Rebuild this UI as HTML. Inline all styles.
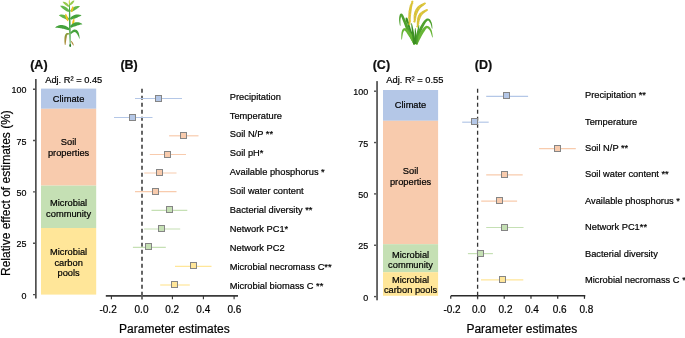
<!DOCTYPE html>
<html><head><meta charset="utf-8"><style>
html,body{margin:0;padding:0;background:#fff;width:685px;height:338px;overflow:hidden}
svg{display:block;will-change:transform}
text{font-family:"Liberation Sans",sans-serif;stroke:#000;stroke-width:0.2px}
</style></head><body>
<svg width="685" height="338" viewBox="0 0 685 338">
<text x="30.2" y="68.5" font-size="12.5" text-anchor="start" font-weight="bold" fill="#111" >(A)</text>
<text x="45.2" y="82.8" font-size="9.3" text-anchor="start" font-weight="normal" fill="#000" >Adj. R² = 0.45</text>
<rect x="41" y="88.6" width="55.2" height="20.2" fill="#B4C7E7"/>
<rect x="41" y="108.8" width="55.2" height="76.8" fill="#F8CBAD"/>
<rect x="41" y="185.6" width="55.2" height="42.4" fill="#C5E0B4"/>
<rect x="41" y="228" width="55.2" height="66.6" fill="#FFE699"/>
<text x="68.6" y="102.2" font-size="9.3" text-anchor="middle" font-weight="normal" fill="#000" >Climate</text>
<text x="68.6" y="145.3" font-size="9.3" text-anchor="middle" font-weight="normal" fill="#000" >Soil</text>
<text x="68.6" y="155.7" font-size="9.3" text-anchor="middle" font-weight="normal" fill="#000" >properties</text>
<text x="68.6" y="206" font-size="9.3" text-anchor="middle" font-weight="normal" fill="#000" >Microbial</text>
<text x="68.6" y="216.5" font-size="9.3" text-anchor="middle" font-weight="normal" fill="#000" >community</text>
<text x="68.6" y="255.4" font-size="9.3" text-anchor="middle" font-weight="normal" fill="#000" >Microbial</text>
<text x="68.6" y="265.8" font-size="9.3" text-anchor="middle" font-weight="normal" fill="#000" >carbon</text>
<text x="68.6" y="276.2" font-size="9.3" text-anchor="middle" font-weight="normal" fill="#000" >pools</text>
<rect x="35" y="79" width="1.7" height="219.5" fill="#505050"/>
<line x1="33" y1="89.2" x2="35" y2="89.2" stroke="#505050" stroke-width="1.4" />
<text x="26.4" y="93.4" font-size="9.6" text-anchor="end" font-weight="normal" fill="#000" transform="translate(26.4,0) scale(0.93,1) translate(-26.4,0)">100</text>
<line x1="33" y1="140.55" x2="35" y2="140.55" stroke="#505050" stroke-width="1.4" />
<text x="26.4" y="144.75" font-size="9.6" text-anchor="end" font-weight="normal" fill="#000" transform="translate(26.4,0) scale(0.93,1) translate(-26.4,0)">75</text>
<line x1="33" y1="191.9" x2="35" y2="191.9" stroke="#505050" stroke-width="1.4" />
<text x="26.4" y="196.1" font-size="9.6" text-anchor="end" font-weight="normal" fill="#000" transform="translate(26.4,0) scale(0.93,1) translate(-26.4,0)">50</text>
<line x1="33" y1="243.25" x2="35" y2="243.25" stroke="#505050" stroke-width="1.4" />
<text x="26.4" y="247.45" font-size="9.6" text-anchor="end" font-weight="normal" fill="#000" transform="translate(26.4,0) scale(0.93,1) translate(-26.4,0)">25</text>
<line x1="33" y1="294.6" x2="35" y2="294.6" stroke="#505050" stroke-width="1.4" />
<text x="26.4" y="298.8" font-size="9.6" text-anchor="end" font-weight="normal" fill="#000" transform="translate(26.4,0) scale(0.93,1) translate(-26.4,0)">0</text>
<text transform="translate(10,193.1) rotate(-90)" font-size="12" text-anchor="middle" fill="#000">Relative effect of estimates (%)</text>
<text x="120.4" y="68.5" font-size="12.5" text-anchor="start" font-weight="bold" fill="#111" >(B)</text>
<line x1="105.8" y1="295.9" x2="238" y2="295.9" stroke="#3a3a3a" stroke-width="1.6" />
<line x1="111.4" y1="296" x2="111.4" y2="299.3" stroke="#333" stroke-width="1.1" />
<line x1="172.4" y1="296" x2="172.4" y2="299.3" stroke="#333" stroke-width="1.1" />
<line x1="203.4" y1="296" x2="203.4" y2="299.3" stroke="#333" stroke-width="1.1" />
<line x1="234.1" y1="296" x2="234.1" y2="299.3" stroke="#333" stroke-width="1.1" />
<line x1="142" y1="296" x2="142" y2="299.3" stroke="#555" stroke-width="1.6" />
<text x="108.1" y="312.6" font-size="10" text-anchor="middle" font-weight="normal" fill="#000" >-0.2</text>
<text x="141.5" y="312.6" font-size="10" text-anchor="middle" font-weight="normal" fill="#000" >0.0</text>
<text x="172.1" y="312.6" font-size="10" text-anchor="middle" font-weight="normal" fill="#000" >0.2</text>
<text x="203.3" y="312.6" font-size="10" text-anchor="middle" font-weight="normal" fill="#000" >0.4</text>
<text x="234.4" y="312.6" font-size="10" text-anchor="middle" font-weight="normal" fill="#000" >0.6</text>
<text x="174.4" y="332.9" font-size="12" text-anchor="middle" font-weight="normal" fill="#000" >Parameter estimates</text>
<line x1="142" y1="88.8" x2="142" y2="299.2" stroke="#666" stroke-width="2" stroke-dasharray="4 3"/>
<line x1="135" y1="98.5" x2="182" y2="98.5" stroke="#B4C7E7" stroke-width="1.2" />
<line x1="114" y1="117.5" x2="152.5" y2="117.5" stroke="#B4C7E7" stroke-width="1.2" />
<line x1="169.1" y1="135.8" x2="198.5" y2="135.8" stroke="#F8CBAD" stroke-width="1.2" />
<line x1="149.8" y1="154.5" x2="186" y2="154.5" stroke="#F8CBAD" stroke-width="1.2" />
<line x1="144.2" y1="173" x2="176.5" y2="173" stroke="#F8CBAD" stroke-width="1.2" />
<line x1="135" y1="191.6" x2="176.5" y2="191.6" stroke="#F8CBAD" stroke-width="1.2" />
<line x1="151.5" y1="210.3" x2="187.3" y2="210.3" stroke="#C5E0B4" stroke-width="1.2" />
<line x1="144.1" y1="229" x2="180.2" y2="229" stroke="#C5E0B4" stroke-width="1.2" />
<line x1="132.9" y1="247.4" x2="165.8" y2="247.4" stroke="#C5E0B4" stroke-width="1.2" />
<line x1="175" y1="266.4" x2="211.5" y2="266.4" stroke="#FFE699" stroke-width="1.2" />
<line x1="160.2" y1="285" x2="189.8" y2="285" stroke="#FFE699" stroke-width="1.2" />
<rect x="155.5" y="95.5" width="6" height="6" fill="#B4C7E7" stroke="#858585" stroke-width="1"/>
<text x="229.8" y="99.6" font-size="9.3" text-anchor="start" font-weight="normal" fill="#000" >Precipitation</text>
<rect x="129.5" y="114.5" width="6" height="6" fill="#B4C7E7" stroke="#858585" stroke-width="1"/>
<text x="229.8" y="118.5" font-size="9.3" text-anchor="start" font-weight="normal" fill="#000" >Temperature</text>
<rect x="180.5" y="132.5" width="6" height="6" fill="#F8CBAD" stroke="#858585" stroke-width="1"/>
<text x="229.8" y="137.4" font-size="9.3" text-anchor="start" font-weight="normal" fill="#000" >Soil N/P **</text>
<rect x="164.5" y="151.5" width="6" height="6" fill="#F8CBAD" stroke="#858585" stroke-width="1"/>
<text x="229.8" y="156.3" font-size="9.3" text-anchor="start" font-weight="normal" fill="#000" >Soil pH*</text>
<rect x="156.5" y="169.5" width="6" height="6" fill="#F8CBAD" stroke="#858585" stroke-width="1"/>
<text x="229.8" y="175.2" font-size="9.3" text-anchor="start" font-weight="normal" fill="#000" >Available phosphorus *</text>
<rect x="152.5" y="188.5" width="6" height="6" fill="#F8CBAD" stroke="#858585" stroke-width="1"/>
<text x="229.8" y="194.1" font-size="9.3" text-anchor="start" font-weight="normal" fill="#000" >Soil water content</text>
<rect x="166.5" y="206.5" width="6" height="6" fill="#C5E0B4" stroke="#858585" stroke-width="1"/>
<text x="229.8" y="213.0" font-size="9.3" text-anchor="start" font-weight="normal" fill="#000" >Bacterial diversity **</text>
<rect x="158.5" y="225.5" width="6" height="6" fill="#C5E0B4" stroke="#858585" stroke-width="1"/>
<text x="229.8" y="231.9" font-size="9.3" text-anchor="start" font-weight="normal" fill="#000" >Network PC1*</text>
<rect x="145.5" y="243.5" width="6" height="6" fill="#C5E0B4" stroke="#858585" stroke-width="1"/>
<text x="229.8" y="250.8" font-size="9.3" text-anchor="start" font-weight="normal" fill="#000" >Network PC2</text>
<rect x="190.5" y="262.5" width="6" height="6" fill="#FFE699" stroke="#858585" stroke-width="1"/>
<text x="229.8" y="269.7" font-size="9.3" text-anchor="start" font-weight="normal" fill="#000" >Microbial necromass C**</text>
<rect x="171.5" y="281.5" width="6" height="6" fill="#FFE699" stroke="#858585" stroke-width="1"/>
<text x="229.8" y="288.6" font-size="9.3" text-anchor="start" font-weight="normal" fill="#000" >Microbial biomass C **</text>
<text x="372.7" y="68.5" font-size="12.5" text-anchor="start" font-weight="bold" fill="#111" >(C)</text>
<text x="386.3" y="83" font-size="9.3" text-anchor="start" font-weight="normal" fill="#000" >Adj. R² = 0.55</text>
<rect x="383" y="90" width="55.1" height="30.8" fill="#B4C7E7"/>
<rect x="383" y="120.8" width="55.1" height="123.4" fill="#F8CBAD"/>
<rect x="383" y="244.2" width="55.1" height="28.0" fill="#C5E0B4"/>
<rect x="383" y="272.2" width="55.1" height="23.6" fill="#FFE699"/>
<text x="410.55" y="108.2" font-size="9.3" text-anchor="middle" font-weight="normal" fill="#000" >Climate</text>
<text x="410.55" y="174.2" font-size="9.3" text-anchor="middle" font-weight="normal" fill="#000" >Soil</text>
<text x="410.55" y="184.5" font-size="9.3" text-anchor="middle" font-weight="normal" fill="#000" >properties</text>
<text x="410.55" y="257.8" font-size="9.3" text-anchor="middle" font-weight="normal" fill="#000" >Microbial</text>
<text x="410.55" y="268" font-size="9.3" text-anchor="middle" font-weight="normal" fill="#000" >community</text>
<text x="410.55" y="282.6" font-size="9.3" text-anchor="middle" font-weight="normal" fill="#000" >Microbial</text>
<text x="410.55" y="292.9" font-size="9.3" text-anchor="middle" font-weight="normal" fill="#000" >carbon pools</text>
<rect x="376.2" y="81.1" width="1.7" height="219.2" fill="#505050"/>
<line x1="374" y1="91.2" x2="376.2" y2="91.2" stroke="#505050" stroke-width="1.4" />
<text x="368.2" y="95.4" font-size="9.6" text-anchor="end" font-weight="normal" fill="#000" transform="translate(368.2,0) scale(0.93,1) translate(-368.2,0)">100</text>
<line x1="374" y1="142.55" x2="376.2" y2="142.55" stroke="#505050" stroke-width="1.4" />
<text x="368.2" y="146.75" font-size="9.6" text-anchor="end" font-weight="normal" fill="#000" transform="translate(368.2,0) scale(0.93,1) translate(-368.2,0)">75</text>
<line x1="374" y1="193.9" x2="376.2" y2="193.9" stroke="#505050" stroke-width="1.4" />
<text x="368.2" y="198.1" font-size="9.6" text-anchor="end" font-weight="normal" fill="#000" transform="translate(368.2,0) scale(0.93,1) translate(-368.2,0)">50</text>
<line x1="374" y1="245.25" x2="376.2" y2="245.25" stroke="#505050" stroke-width="1.4" />
<text x="368.2" y="249.45" font-size="9.6" text-anchor="end" font-weight="normal" fill="#000" transform="translate(368.2,0) scale(0.93,1) translate(-368.2,0)">25</text>
<line x1="374" y1="296.6" x2="376.2" y2="296.6" stroke="#505050" stroke-width="1.4" />
<text x="368.2" y="300.8" font-size="9.6" text-anchor="end" font-weight="normal" fill="#000" transform="translate(368.2,0) scale(0.93,1) translate(-368.2,0)">0</text>
<text x="474.8" y="68.5" font-size="12.5" text-anchor="start" font-weight="bold" fill="#111" >(D)</text>
<line x1="450.9" y1="295.8" x2="585.3" y2="295.8" stroke="#2a2a2a" stroke-width="1.4" />
<line x1="450.76" y1="295.8" x2="450.76" y2="298.8" stroke="#2a2a2a" stroke-width="1.2" />
<line x1="504.24" y1="295.8" x2="504.24" y2="298.8" stroke="#2a2a2a" stroke-width="1.2" />
<line x1="530.98" y1="295.8" x2="530.98" y2="298.8" stroke="#2a2a2a" stroke-width="1.2" />
<line x1="557.72" y1="295.8" x2="557.72" y2="298.8" stroke="#2a2a2a" stroke-width="1.2" />
<line x1="584.46" y1="295.8" x2="584.46" y2="298.8" stroke="#2a2a2a" stroke-width="1.2" />
<line x1="477.6" y1="295.8" x2="477.6" y2="298.8" stroke="#333" stroke-width="1.3" />
<text x="452" y="312.6" font-size="10" text-anchor="middle" font-weight="normal" fill="#000" >-0.2</text>
<text x="478.9" y="312.6" font-size="10" text-anchor="middle" font-weight="normal" fill="#000" >0.0</text>
<text x="505.5" y="312.6" font-size="10" text-anchor="middle" font-weight="normal" fill="#000" >0.2</text>
<text x="531.9" y="312.6" font-size="10" text-anchor="middle" font-weight="normal" fill="#000" >0.4</text>
<text x="559.7" y="312.6" font-size="10" text-anchor="middle" font-weight="normal" fill="#000" >0.6</text>
<text x="586.4" y="312.6" font-size="10" text-anchor="middle" font-weight="normal" fill="#000" >0.8</text>
<text x="521.8" y="332.9" font-size="12" text-anchor="middle" font-weight="normal" fill="#000" >Parameter estimates</text>
<line x1="477.6" y1="88.8" x2="477.6" y2="299.2" stroke="#333" stroke-width="1.3" stroke-dasharray="4 3"/>
<line x1="486.2" y1="96.3" x2="528.1" y2="96.3" stroke="#B4C7E7" stroke-width="1.2" />
<line x1="462.2" y1="122.2" x2="488.7" y2="122.2" stroke="#B4C7E7" stroke-width="1.2" />
<line x1="539.1" y1="148.7" x2="575.8" y2="148.7" stroke="#F8CBAD" stroke-width="1.2" />
<line x1="486.2" y1="174.8" x2="522.7" y2="174.8" stroke="#F8CBAD" stroke-width="1.2" />
<line x1="481.2" y1="201.2" x2="517.1" y2="201.2" stroke="#F8CBAD" stroke-width="1.2" />
<line x1="486.2" y1="227.5" x2="523.5" y2="227.5" stroke="#C5E0B4" stroke-width="1.2" />
<line x1="467.9" y1="253.6" x2="492.9" y2="253.6" stroke="#C5E0B4" stroke-width="1.2" />
<line x1="481" y1="279.8" x2="523.3" y2="279.8" stroke="#FFE699" stroke-width="1.2" />
<rect x="503.5" y="92.5" width="6" height="6" fill="#B4C7E7" stroke="#858585" stroke-width="1"/>
<text x="585" y="98.4" font-size="9.3" text-anchor="start" font-weight="normal" fill="#000" >Precipitation **</text>
<rect x="471.5" y="118.5" width="6" height="6" fill="#B4C7E7" stroke="#858585" stroke-width="1"/>
<text x="585" y="124.75" font-size="9.3" text-anchor="start" font-weight="normal" fill="#000" >Temperature</text>
<rect x="554.5" y="145.5" width="6" height="6" fill="#F8CBAD" stroke="#858585" stroke-width="1"/>
<text x="585" y="151.1" font-size="9.3" text-anchor="start" font-weight="normal" fill="#000" >Soil N/P **</text>
<rect x="501.5" y="171.5" width="6" height="6" fill="#F8CBAD" stroke="#858585" stroke-width="1"/>
<text x="585" y="177.45" font-size="9.3" text-anchor="start" font-weight="normal" fill="#000" >Soil water content **</text>
<rect x="496.5" y="197.5" width="6" height="6" fill="#F8CBAD" stroke="#858585" stroke-width="1"/>
<text x="585" y="203.8" font-size="9.3" text-anchor="start" font-weight="normal" fill="#000" >Available phosphorus *</text>
<rect x="501.5" y="224.5" width="6" height="6" fill="#C5E0B4" stroke="#858585" stroke-width="1"/>
<text x="585" y="230.15" font-size="9.3" text-anchor="start" font-weight="normal" fill="#000" >Network PC1**</text>
<rect x="477.5" y="250.5" width="6" height="6" fill="#C5E0B4" stroke="#858585" stroke-width="1"/>
<text x="585" y="256.5" font-size="9.3" text-anchor="start" font-weight="normal" fill="#000" >Bacterial diversity</text>
<rect x="499.5" y="276.5" width="6" height="6" fill="#FFE699" stroke="#858585" stroke-width="1"/>
<text x="585" y="282.85" font-size="9.3" text-anchor="start" font-weight="normal" fill="#000" >Microbial necromass C *</text>
<g>
<path d="M69.08,3.01 L69.04,5.76 L69.00,8.50 L68.96,11.25 L68.94,13.99 L68.93,16.72 L68.94,19.46 L68.96,22.19 L69.00,24.91 L69.06,27.64 L69.14,30.36 L69.23,33.07 L69.34,35.79 L69.46,38.50 L69.60,41.20 L69.74,43.91 L69.88,46.61 L70.52,46.59 L70.56,43.89 L70.60,41.18 L70.64,38.48 L70.66,35.76 L70.67,33.05 L70.66,30.33 L70.64,27.61 L70.60,24.89 L70.54,22.16 L70.46,19.43 L70.37,16.70 L70.26,13.96 L70.14,11.23 L70.00,8.48 L69.86,5.74 L69.72,2.99Z" fill="#46a546" />
<path d="M69.06,0.01 L69.00,0.29 L68.93,0.57 L68.88,0.85 L68.83,1.14 L68.79,1.42 L68.77,1.70 L68.75,1.98 L68.75,2.26 L68.76,2.54 L68.79,2.83 L68.83,3.11 L68.88,3.39 L68.94,3.67 L69.01,3.95 L69.08,4.23 L69.16,4.51 L69.64,4.49 L69.70,4.21 L69.77,3.93 L69.82,3.65 L69.87,3.36 L69.91,3.08 L69.93,2.80 L69.95,2.52 L69.95,2.24 L69.94,1.96 L69.91,1.67 L69.87,1.39 L69.82,1.11 L69.76,0.83 L69.69,0.55 L69.62,0.27 L69.54,-0.01Z" fill="#c9d84a" />
<path d="M69.34,6.04 L69.02,5.52 L68.68,5.02 L68.33,4.56 L67.96,4.13 L67.57,3.73 L67.17,3.36 L66.76,3.03 L66.33,2.73 L65.89,2.48 L65.44,2.25 L64.98,2.07 L64.51,1.92 L64.04,1.82 L63.57,1.75 L63.10,1.73 L62.60,1.80 L62.60,1.80 L62.83,2.24 L63.10,2.61 L63.37,2.97 L63.65,3.31 L63.95,3.65 L64.25,3.98 L64.58,4.30 L64.92,4.62 L65.29,4.92 L65.67,5.22 L66.08,5.52 L66.51,5.81 L66.96,6.10 L67.43,6.39 L67.93,6.67 L68.46,6.96Z" fill="#96ca4e" />
<path d="M70.44,5.37 L70.85,5.09 L71.25,4.82 L71.61,4.54 L71.96,4.26 L72.28,3.98 L72.58,3.70 L72.85,3.41 L73.11,3.11 L73.34,2.82 L73.55,2.51 L73.74,2.20 L73.91,1.89 L74.06,1.56 L74.20,1.23 L74.32,0.89 L74.40,0.50 L74.40,0.50 L74.00,0.49 L73.63,0.56 L73.27,0.67 L72.92,0.80 L72.57,0.97 L72.23,1.16 L71.91,1.38 L71.59,1.64 L71.29,1.92 L71.00,2.23 L70.73,2.56 L70.47,2.93 L70.22,3.32 L69.99,3.73 L69.77,4.17 L69.56,4.63Z" fill="#96ca4e" />
<path d="M69.55,10.88 L69.11,10.23 L68.64,9.61 L68.14,9.03 L67.62,8.49 L67.08,8.00 L66.51,7.55 L65.92,7.14 L65.32,6.79 L64.69,6.48 L64.05,6.22 L63.39,6.01 L62.73,5.85 L62.06,5.73 L61.38,5.68 L60.70,5.68 L60.00,5.80 L60.00,5.80 L60.42,6.36 L60.87,6.85 L61.32,7.30 L61.77,7.74 L62.23,8.17 L62.70,8.58 L63.19,8.98 L63.68,9.36 L64.20,9.74 L64.74,10.10 L65.29,10.45 L65.88,10.79 L66.48,11.13 L67.11,11.46 L67.77,11.79 L68.45,12.12Z" fill="#62b74a" />
<path d="M71.16,12.11 L71.83,11.79 L72.47,11.47 L73.09,11.16 L73.69,10.84 L74.26,10.53 L74.82,10.20 L75.36,9.87 L75.89,9.53 L76.40,9.19 L76.91,8.82 L77.42,8.45 L77.93,8.06 L78.43,7.67 L78.95,7.25 L79.48,6.82 L80.00,6.30 L80.00,6.30 L79.28,6.10 L78.57,6.03 L77.86,6.03 L77.15,6.09 L76.45,6.20 L75.75,6.36 L75.07,6.59 L74.41,6.87 L73.77,7.20 L73.15,7.58 L72.55,8.02 L71.99,8.51 L71.45,9.04 L70.95,9.61 L70.48,10.23 L70.04,10.89Z" fill="#62b74a" />
<path d="M69.33,18.78 L68.78,18.12 L68.20,17.50 L67.59,16.94 L66.97,16.43 L66.33,15.98 L65.66,15.59 L64.98,15.25 L64.29,14.99 L63.58,14.78 L62.87,14.64 L62.17,14.57 L61.46,14.56 L60.77,14.62 L60.09,14.75 L59.43,14.95 L58.80,15.30 L58.80,15.30 L59.35,15.75 L59.88,16.11 L60.40,16.45 L60.91,16.79 L61.43,17.11 L61.94,17.42 L62.47,17.72 L63.01,18.01 L63.57,18.30 L64.16,18.58 L64.77,18.85 L65.40,19.12 L66.07,19.39 L66.77,19.66 L67.50,19.94 L68.27,20.22Z" fill="#62b74a" />
<path d="M70.91,19.74 L71.64,19.51 L72.35,19.29 L73.03,19.07 L73.70,18.86 L74.36,18.63 L75.00,18.40 L75.63,18.16 L76.25,17.91 L76.88,17.65 L77.51,17.38 L78.15,17.09 L78.80,16.79 L79.46,16.48 L80.15,16.16 L80.86,15.82 L81.60,15.40 L81.60,15.40 L80.82,15.03 L80.03,14.79 L79.23,14.63 L78.43,14.53 L77.62,14.50 L76.82,14.53 L76.03,14.62 L75.25,14.79 L74.48,15.01 L73.74,15.30 L73.01,15.66 L72.32,16.07 L71.66,16.54 L71.03,17.06 L70.45,17.64 L69.89,18.26Z" fill="#45a23c" />
<path d="M72.52,6.36 L72.37,6.66 L72.22,6.96 L72.07,7.26 L71.92,7.57 L71.78,7.88 L71.65,8.19 L71.54,8.51 L71.44,8.84 L71.35,9.18 L71.27,9.53 L71.21,9.89 L71.15,10.26 L71.10,10.64 L71.05,11.03 L71.01,11.44 L70.95,11.85 L71.65,12.15 L71.91,11.82 L72.17,11.48 L72.40,11.14 L72.62,10.79 L72.82,10.44 L73.00,10.09 L73.14,9.73 L73.26,9.36 L73.35,8.99 L73.41,8.62 L73.45,8.25 L73.45,7.88 L73.44,7.51 L73.40,7.15 L73.35,6.79 L73.28,6.44Z" fill="#f2c21b" />
<path d="M65.21,13.90 L65.23,14.40 L65.25,14.89 L65.28,15.39 L65.33,15.88 L65.39,16.37 L65.48,16.85 L65.59,17.33 L65.72,17.80 L65.88,18.26 L66.06,18.72 L66.26,19.17 L66.49,19.61 L66.73,20.05 L66.98,20.48 L67.25,20.91 L67.52,21.33 L68.28,21.07 L68.23,20.57 L68.18,20.07 L68.12,19.58 L68.05,19.09 L67.97,18.61 L67.88,18.13 L67.76,17.66 L67.63,17.20 L67.48,16.75 L67.31,16.30 L67.12,15.86 L66.91,15.42 L66.69,14.99 L66.46,14.56 L66.22,14.13 L65.99,13.70Z" fill="#f2c21b" />
<path d="M73.50,18.75 L73.34,19.13 L73.17,19.51 L73.00,19.88 L72.84,20.25 L72.70,20.63 L72.57,21.01 L72.45,21.39 L72.35,21.77 L72.27,22.16 L72.20,22.56 L72.15,22.96 L72.11,23.37 L72.09,23.79 L72.06,24.21 L72.04,24.64 L72.02,25.07 L72.78,25.33 L73.03,24.96 L73.26,24.59 L73.49,24.21 L73.70,23.83 L73.89,23.44 L74.05,23.04 L74.19,22.64 L74.30,22.23 L74.38,21.81 L74.44,21.39 L74.46,20.97 L74.47,20.55 L74.45,20.12 L74.41,19.69 L74.36,19.27 L74.30,18.85Z" fill="#f2c21b" />
<path d="M69.71,28.69 L68.89,27.93 L68.03,27.25 L67.13,26.65 L66.21,26.14 L65.25,25.71 L64.28,25.39 L63.28,25.16 L62.28,25.03 L61.28,25.00 L60.29,25.08 L59.32,25.25 L58.37,25.53 L57.45,25.89 L56.58,26.34 L55.75,26.89 L55.00,27.60 L55.00,27.60 L56.00,27.71 L56.93,27.78 L57.81,27.86 L58.66,27.96 L59.47,28.08 L60.26,28.22 L61.04,28.36 L61.82,28.52 L62.59,28.68 L63.38,28.86 L64.19,29.05 L65.02,29.25 L65.88,29.47 L66.78,29.72 L67.72,30.00 L68.69,30.31Z" fill="#45a23c" />
<path d="M71.21,27.74 L71.99,27.41 L72.74,27.12 L73.45,26.86 L74.13,26.61 L74.79,26.39 L75.42,26.17 L76.04,25.97 L76.66,25.76 L77.27,25.56 L77.90,25.36 L78.55,25.16 L79.23,24.96 L79.95,24.78 L80.71,24.60 L81.52,24.43 L82.40,24.20 L82.40,24.20 L81.69,23.59 L80.92,23.14 L80.12,22.78 L79.29,22.51 L78.44,22.33 L77.58,22.24 L76.71,22.24 L75.84,22.34 L74.99,22.53 L74.16,22.82 L73.36,23.20 L72.59,23.66 L71.87,24.20 L71.19,24.82 L70.56,25.51 L69.99,26.26Z" fill="#45a23c" />
<path d="M71.13,33.96 L72.00,33.26 L72.79,32.73 L73.47,32.37 L74.04,32.17 L74.48,32.09 L74.80,32.10 L75.06,32.15 L75.36,32.27 L75.74,32.50 L76.19,32.90 L76.70,33.48 L77.24,34.26 L77.80,35.22 L78.37,36.37 L78.95,37.70 L79.60,39.20 L79.60,39.20 L79.57,37.56 L79.41,36.07 L79.18,34.73 L78.89,33.53 L78.51,32.46 L78.04,31.53 L77.46,30.73 L76.74,30.08 L75.88,29.65 L74.93,29.47 L73.98,29.58 L73.08,29.92 L72.26,30.46 L71.49,31.17 L70.77,32.03 L70.07,33.04Z" fill="#45a23c" />
<path d="M69.41,33.51 L68.79,33.17 L68.13,32.97 L67.44,32.94 L66.76,33.12 L66.14,33.49 L65.62,34.01 L65.22,34.66 L64.91,35.41 L64.69,36.25 L64.54,37.20 L64.46,38.24 L64.45,39.38 L64.51,40.63 L64.62,41.98 L64.81,43.44 L65.10,45.00 L65.10,45.00 L65.28,43.43 L65.44,41.99 L65.62,40.67 L65.81,39.49 L66.02,38.44 L66.25,37.52 L66.49,36.74 L66.74,36.09 L66.99,35.58 L67.22,35.21 L67.42,34.94 L67.61,34.76 L67.81,34.62 L68.08,34.50 L68.48,34.45 L68.99,34.49Z" fill="#8a9a3a" />
<path d="M66.25,35.93 L66.03,36.41 L65.82,36.91 L65.62,37.42 L65.44,37.95 L65.28,38.48 L65.13,39.03 L65.01,39.58 L64.91,40.15 L64.83,40.73 L64.78,41.31 L64.74,41.91 L64.73,42.51 L64.74,43.12 L64.76,43.74 L64.79,44.36 L64.84,44.99 L65.36,45.01 L65.46,44.40 L65.57,43.79 L65.69,43.20 L65.80,42.61 L65.90,42.04 L66.01,41.47 L66.10,40.91 L66.19,40.35 L66.27,39.80 L66.35,39.26 L66.42,38.72 L66.49,38.18 L66.55,37.65 L66.61,37.12 L66.68,36.59 L66.75,36.07Z" fill="#b08a3a" />
<path d="M70.81,41.14 L70.93,41.43 L71.06,41.73 L71.18,42.02 L71.31,42.30 L71.44,42.59 L71.58,42.87 L71.73,43.15 L71.88,43.43 L72.04,43.70 L72.22,43.97 L72.40,44.24 L72.58,44.50 L72.78,44.77 L72.98,45.04 L73.18,45.32 L73.38,45.60 L73.82,45.40 L73.74,45.06 L73.66,44.72 L73.57,44.39 L73.47,44.06 L73.35,43.74 L73.22,43.42 L73.08,43.12 L72.92,42.82 L72.75,42.54 L72.56,42.27 L72.35,42.01 L72.14,41.76 L71.91,41.52 L71.68,41.29 L71.44,41.07 L71.19,40.86Z" fill="#b08a3a" />
<path d="M69.84,44.00 L69.73,44.19 L69.63,44.38 L69.54,44.56 L69.46,44.75 L69.39,44.94 L69.34,45.12 L69.31,45.31 L69.30,45.50 L69.31,45.69 L69.34,45.88 L69.39,46.06 L69.46,46.25 L69.54,46.44 L69.63,46.62 L69.73,46.81 L69.84,47.00 L70.56,47.00 L70.67,46.81 L70.77,46.62 L70.86,46.44 L70.94,46.25 L71.01,46.06 L71.06,45.88 L71.09,45.69 L71.10,45.50 L71.09,45.31 L71.06,45.12 L71.01,44.94 L70.94,44.75 L70.86,44.56 L70.77,44.38 L70.67,44.19 L70.56,44.00Z" fill="#2a7a2a" />
</g>
<g>
<path d="M416.29,43.54 L415.99,42.76 L415.60,41.76 L415.14,40.58 L414.62,39.25 L414.07,37.82 L413.50,36.32 L412.93,34.80 L412.36,33.30 L411.83,31.85 L411.34,30.49 L410.90,29.26 L410.48,27.97 L410.06,26.59 L409.65,25.16 L409.25,23.74 L408.86,22.36 L408.49,21.08 L408.14,19.93 L407.82,18.97 L407.51,18.21 L407.19,17.64 L405.95,17.41 L405.60,18.13 L405.55,18.83 L405.55,19.72 L405.58,20.75 L405.63,21.89 L405.70,23.04 L405.78,24.15 L405.87,25.15 L405.97,25.95 L406.13,26.50 L406.27,26.50 L406.44,25.95 L406.51,25.13 L406.56,24.14 L406.60,23.03 L406.64,21.88 L406.68,20.76 L406.75,19.75 L406.83,18.94 L406.94,18.42 L406.83,18.56 L405.94,18.51 L406.03,18.80 L406.23,19.47 L406.47,20.41 L406.75,21.54 L407.05,22.83 L407.38,24.22 L407.73,25.67 L408.08,27.13 L408.45,28.56 L408.83,29.91 L409.23,31.20 L409.67,32.59 L410.16,34.08 L410.68,35.61 L411.20,37.16 L411.73,38.67 L412.23,40.13 L412.69,41.47 L413.11,42.67 L413.45,43.68 L413.71,44.46Z" fill="#3b8f22" />
<path d="M417.06,43.15 L416.62,42.40 L416.05,41.43 L415.39,40.30 L414.65,39.03 L413.86,37.66 L413.06,36.24 L412.26,34.81 L411.49,33.40 L410.79,32.07 L410.17,30.84 L409.57,29.57 L408.98,28.26 L408.40,26.92 L407.83,25.58 L407.28,24.27 L406.75,22.99 L406.24,21.79 L405.76,20.67 L405.30,19.65 L404.89,18.78 L404.52,17.95 L404.17,17.17 L403.84,16.45 L403.53,15.79 L403.22,15.20 L402.91,14.68 L402.57,14.23 L402.11,13.81 L401.33,13.55 L400.45,13.84 L400.02,14.33 L399.77,14.85 L399.59,15.41 L399.44,16.02 L399.31,16.67 L399.21,17.34 L399.14,18.02 L399.09,18.68 L399.08,19.35 L399.11,20.10 L399.17,20.92 L399.27,21.78 L399.38,22.65 L399.51,23.49 L399.65,24.28 L399.78,24.99 L399.93,25.57 L400.13,26.00 L400.27,26.00 L400.41,25.53 L400.44,24.92 L400.44,24.20 L400.42,23.41 L400.40,22.56 L400.39,21.71 L400.39,20.87 L400.42,20.09 L400.47,19.41 L400.56,18.84 L400.68,18.24 L400.81,17.63 L400.97,17.04 L401.15,16.49 L401.33,16.01 L401.51,15.64 L401.65,15.44 L401.64,15.49 L401.18,15.64 L400.84,15.56 L400.83,15.60 L400.95,15.83 L401.12,16.23 L401.34,16.76 L401.58,17.39 L401.85,18.12 L402.15,18.93 L402.49,19.80 L402.86,20.72 L403.25,21.70 L403.68,22.82 L404.13,24.03 L404.62,25.32 L405.12,26.67 L405.65,28.04 L406.20,29.43 L406.77,30.81 L407.35,32.15 L407.97,33.47 L408.65,34.87 L409.40,36.34 L410.17,37.82 L410.95,39.28 L411.70,40.68 L412.41,41.98 L413.03,43.13 L413.56,44.11 L413.94,44.85Z" fill="#4fa12e" />
<path d="M417.19,44.54 L417.39,43.81 L417.64,42.89 L417.93,41.82 L418.25,40.62 L418.61,39.34 L418.99,38.03 L419.39,36.71 L419.80,35.43 L420.21,34.24 L420.62,33.15 L421.06,32.04 L421.54,30.90 L422.04,29.75 L422.56,28.62 L423.08,27.52 L423.59,26.48 L424.10,25.51 L424.58,24.63 L425.02,23.87 L425.44,23.21 L425.84,22.62 L426.22,22.10 L426.58,21.66 L426.92,21.30 L427.23,21.01 L427.49,20.81 L427.72,20.67 L427.89,20.59 L428.00,20.55 L428.06,20.54 L428.24,20.59 L428.49,20.76 L428.77,21.02 L429.08,21.36 L429.39,21.76 L429.69,22.20 L429.97,22.65 L430.24,23.12 L430.47,23.55 L430.69,24.08 L430.89,24.70 L431.08,25.37 L431.26,26.06 L431.42,26.75 L431.58,27.40 L431.74,27.98 L431.90,28.47 L432.13,28.82 L432.27,28.78 L432.37,28.39 L432.38,27.88 L432.37,27.28 L432.33,26.61 L432.27,25.89 L432.19,25.15 L432.08,24.42 L431.95,23.72 L431.78,23.07 L431.58,22.49 L431.36,21.95 L431.11,21.40 L430.83,20.86 L430.53,20.33 L430.18,19.83 L429.80,19.37 L429.35,18.96 L428.81,18.64 L428.14,18.46 L427.52,18.46 L426.94,18.59 L426.38,18.82 L425.85,19.13 L425.33,19.51 L424.82,19.96 L424.32,20.48 L423.81,21.06 L423.31,21.70 L422.79,22.41 L422.25,23.23 L421.69,24.15 L421.11,25.15 L420.52,26.22 L419.94,27.34 L419.36,28.49 L418.80,29.66 L418.26,30.82 L417.75,31.97 L417.26,33.12 L416.78,34.38 L416.31,35.70 L415.85,37.04 L415.42,38.38 L415.01,39.67 L414.64,40.86 L414.31,41.93 L414.03,42.81 L413.81,43.46Z" fill="#4fa12e" />
<path d="M410.36,24.99 L410.43,24.48 L410.48,23.84 L410.52,23.08 L410.56,22.24 L410.59,21.34 L410.63,20.39 L410.67,19.42 L410.71,18.45 L410.76,17.51 L410.83,16.62 L410.91,15.80 L411.01,14.96 L411.11,14.11 L411.22,13.24 L411.33,12.38 L411.44,11.51 L411.56,10.66 L411.68,9.83 L411.79,9.02 L411.91,8.24 L412.02,7.51 L412.13,6.83 L412.26,6.14 L412.41,5.45 L412.57,4.77 L412.73,4.11 L412.90,3.47 L413.05,2.87 L413.18,2.31 L413.30,1.80 L413.38,1.36 L413.43,0.98 L412.37,0.62 L412.18,0.91 L411.95,1.27 L411.69,1.72 L411.41,2.23 L411.11,2.79 L410.80,3.41 L410.50,4.07 L410.21,4.76 L409.94,5.48 L409.69,6.22 L409.48,6.97 L409.29,7.74 L409.11,8.54 L408.95,9.38 L408.80,10.25 L408.67,11.14 L408.56,12.04 L408.47,12.95 L408.39,13.85 L408.34,14.75 L408.32,15.64 L408.32,16.54 L408.35,17.49 L408.40,18.47 L408.48,19.47 L408.58,20.46 L408.68,21.42 L408.80,22.33 L408.92,23.16 L409.03,23.90 L409.14,24.53 L409.24,25.01Z" fill="#d4bf3e" />
<circle cx="409.06" cy="24.02" r="0.75" fill="#e9cf35"/>
<circle cx="410.32" cy="21.06" r="0.75" fill="#e9cf35"/>
<circle cx="408.85" cy="17.60" r="0.75" fill="#e9cf35"/>
<circle cx="410.41" cy="14.47" r="0.75" fill="#e9cf35"/>
<circle cx="409.36" cy="11.33" r="0.75" fill="#e9cf35"/>
<circle cx="411.23" cy="8.34" r="0.75" fill="#e9cf35"/>
<circle cx="410.42" cy="5.73" r="0.75" fill="#e9cf35"/>
<circle cx="412.62" cy="3.34" r="0.75" fill="#e9cf35"/>
<circle cx="411.96" cy="1.44" r="0.75" fill="#e9cf35"/>
<path d="M415.28,22.57 L415.42,22.07 L415.55,21.45 L415.69,20.72 L415.83,19.91 L415.97,19.04 L416.12,18.14 L416.28,17.24 L416.46,16.37 L416.65,15.56 L416.86,14.84 L417.08,14.23 L417.33,13.60 L417.58,13.00 L417.84,12.41 L418.11,11.85 L418.40,11.29 L418.69,10.76 L419.00,10.23 L419.32,9.72 L419.66,9.22 L420.03,8.72 L420.39,8.26 L420.86,7.78 L421.42,7.26 L422.04,6.73 L422.70,6.20 L423.36,5.69 L424.02,5.19 L424.63,4.73 L425.17,4.29 L425.63,3.91 L425.98,3.56 L425.22,2.44 L424.82,2.58 L424.28,2.78 L423.64,3.04 L422.93,3.35 L422.16,3.70 L421.36,4.10 L420.55,4.53 L419.76,5.00 L419.00,5.50 L418.29,6.05 L417.66,6.62 L417.13,7.19 L416.64,7.78 L416.18,8.40 L415.77,9.04 L415.39,9.71 L415.05,10.39 L414.75,11.10 L414.49,11.82 L414.26,12.55 L414.06,13.31 L413.88,14.14 L413.76,15.05 L413.68,16.00 L413.64,16.97 L413.64,17.94 L413.65,18.89 L413.69,19.79 L413.74,20.62 L413.80,21.36 L413.86,21.97 L413.92,22.43Z" fill="#d4bf3e" />
<circle cx="413.97" cy="21.55" r="0.75" fill="#e9cf35"/>
<circle cx="415.53" cy="18.66" r="0.75" fill="#e9cf35"/>
<circle cx="414.49" cy="15.40" r="0.75" fill="#e9cf35"/>
<circle cx="416.60" cy="12.78" r="0.75" fill="#e9cf35"/>
<circle cx="416.19" cy="10.50" r="0.75" fill="#e9cf35"/>
<circle cx="418.91" cy="8.44" r="0.75" fill="#e9cf35"/>
<circle cx="419.30" cy="6.58" r="0.75" fill="#e9cf35"/>
<circle cx="423.22" cy="4.84" r="0.75" fill="#e9cf35"/>
<circle cx="424.15" cy="3.47" r="0.75" fill="#e9cf35"/>
<path d="M418.24,27.57 L418.38,27.08 L418.52,26.45 L418.67,25.71 L418.82,24.88 L418.98,24.00 L419.14,23.08 L419.32,22.17 L419.50,21.30 L419.69,20.49 L419.89,19.78 L420.09,19.19 L420.31,18.62 L420.52,18.08 L420.72,17.59 L420.93,17.12 L421.14,16.69 L421.36,16.27 L421.60,15.87 L421.85,15.48 L422.13,15.08 L422.44,14.67 L422.76,14.28 L423.19,13.87 L423.72,13.42 L424.31,12.95 L424.95,12.49 L425.59,12.03 L426.22,11.60 L426.82,11.18 L427.35,10.80 L427.79,10.45 L428.14,10.14 L427.46,9.06 L427.08,9.17 L426.57,9.34 L425.96,9.56 L425.28,9.82 L424.54,10.12 L423.77,10.46 L423.00,10.83 L422.25,11.22 L421.53,11.66 L420.86,12.13 L420.28,12.63 L419.80,13.10 L419.36,13.60 L418.96,14.13 L418.61,14.67 L418.29,15.24 L418.02,15.82 L417.78,16.43 L417.57,17.05 L417.39,17.70 L417.23,18.37 L417.08,19.15 L416.97,20.01 L416.89,20.93 L416.84,21.89 L416.81,22.85 L416.80,23.81 L416.81,24.72 L416.84,25.57 L416.87,26.33 L416.92,26.95 L416.96,27.43Z" fill="#d4bf3e" />
<circle cx="416.99" cy="26.54" r="0.75" fill="#e9cf35"/>
<circle cx="418.62" cy="23.59" r="0.75" fill="#e9cf35"/>
<circle cx="417.61" cy="20.34" r="0.75" fill="#e9cf35"/>
<circle cx="419.63" cy="17.89" r="0.75" fill="#e9cf35"/>
<circle cx="419.02" cy="15.96" r="0.75" fill="#e9cf35"/>
<circle cx="421.50" cy="14.29" r="0.75" fill="#e9cf35"/>
<circle cx="421.73" cy="12.71" r="0.75" fill="#e9cf35"/>
<circle cx="425.53" cy="11.21" r="0.75" fill="#e9cf35"/>
<circle cx="426.38" cy="10.01" r="0.75" fill="#e9cf35"/>
<path d="M417.10,43.02 L416.76,42.51 L416.31,41.80 L415.78,40.95 L415.18,39.99 L414.54,38.96 L413.88,37.90 L413.20,36.85 L412.54,35.84 L411.90,34.91 L411.30,34.08 L410.76,33.37 L410.21,32.64 L409.65,31.93 L409.10,31.24 L408.54,30.58 L407.99,29.97 L407.44,29.42 L406.89,28.94 L406.31,28.53 L405.67,28.23 L404.98,28.09 L404.30,28.14 L403.69,28.37 L403.19,28.73 L402.81,29.15 L402.50,29.61 L402.24,30.10 L402.03,30.62 L401.85,31.16 L401.69,31.72 L401.54,32.43 L401.44,33.23 L401.37,34.12 L401.32,35.06 L401.29,36.01 L401.28,36.95 L401.29,37.84 L401.32,38.63 L401.37,39.29 L401.53,39.79 L401.67,39.81 L401.92,39.33 L402.07,38.68 L402.20,37.90 L402.33,37.03 L402.47,36.11 L402.62,35.18 L402.77,34.29 L402.94,33.47 L403.12,32.78 L403.31,32.28 L403.53,31.83 L403.75,31.41 L403.98,31.06 L404.20,30.78 L404.41,30.58 L404.57,30.47 L404.67,30.45 L404.70,30.48 L404.69,30.52 L404.73,30.57 L404.87,30.69 L405.14,30.94 L405.48,31.32 L405.88,31.80 L406.31,32.37 L406.76,33.01 L407.23,33.70 L407.72,34.42 L408.21,35.16 L408.70,35.92 L409.20,36.70 L409.75,37.61 L410.34,38.61 L410.95,39.67 L411.56,40.74 L412.14,41.78 L412.69,42.76 L413.17,43.64 L413.58,44.39 L413.90,44.98Z" fill="#67b536" />
<path d="M417.14,44.90 L417.46,44.26 L417.86,43.44 L418.34,42.47 L418.87,41.39 L419.45,40.24 L420.05,39.06 L420.66,37.89 L421.26,36.78 L421.82,35.75 L422.34,34.86 L422.86,33.98 L423.38,33.10 L423.90,32.23 L424.40,31.41 L424.90,30.63 L425.37,29.93 L425.82,29.34 L426.23,28.86 L426.57,28.54 L426.79,28.36 L426.94,28.29 L427.09,28.25 L427.31,28.27 L427.60,28.36 L427.94,28.54 L428.30,28.81 L428.68,29.15 L429.05,29.55 L429.42,29.99 L429.77,30.44 L430.06,30.92 L430.37,31.58 L430.67,32.36 L430.96,33.22 L431.24,34.11 L431.50,34.99 L431.74,35.82 L431.98,36.57 L432.22,37.19 L432.53,37.62 L432.67,37.58 L432.75,37.07 L432.71,36.41 L432.64,35.64 L432.53,34.77 L432.39,33.84 L432.22,32.90 L432.03,31.97 L431.81,31.09 L431.55,30.28 L431.23,29.56 L430.92,28.98 L430.57,28.41 L430.18,27.86 L429.75,27.33 L429.26,26.86 L428.72,26.44 L428.10,26.10 L427.39,25.89 L426.61,25.85 L425.81,26.04 L425.06,26.42 L424.40,26.93 L423.77,27.53 L423.16,28.22 L422.56,28.97 L421.97,29.77 L421.38,30.61 L420.80,31.46 L420.23,32.31 L419.66,33.14 L419.04,34.08 L418.39,35.14 L417.72,36.27 L417.05,37.44 L416.39,38.61 L415.75,39.74 L415.16,40.80 L414.64,41.74 L414.20,42.52 L413.86,43.10Z" fill="#67b536" />
<path d="M415.96,43.80 L415.85,43.27 L415.73,42.60 L415.59,41.82 L415.43,40.93 L415.26,39.97 L415.09,38.96 L414.90,37.91 L414.72,36.84 L414.53,35.78 L414.35,34.75 L414.16,33.77 L413.99,32.86 L413.81,31.96 L413.63,31.03 L413.43,30.07 L413.23,29.10 L413.03,28.15 L412.83,27.21 L412.63,26.31 L412.44,25.47 L412.24,24.70 L412.05,24.02 L411.85,23.44 L411.57,22.99 L411.43,23.01 L411.29,23.52 L411.28,24.14 L411.30,24.85 L411.34,25.64 L411.40,26.50 L411.48,27.42 L411.56,28.37 L411.65,29.34 L411.75,30.32 L411.84,31.29 L411.93,32.24 L412.01,33.14 L412.10,34.06 L412.19,35.05 L412.29,36.09 L412.39,37.16 L412.50,38.23 L412.60,39.29 L412.70,40.32 L412.79,41.29 L412.88,42.18 L412.95,42.98 L413.00,43.66 L413.04,44.20Z" fill="#3b8f22" />
<path d="M417.46,44.22 L417.50,43.72 L417.55,43.11 L417.62,42.38 L417.70,41.56 L417.80,40.68 L417.90,39.75 L418.00,38.78 L418.10,37.80 L418.21,36.83 L418.31,35.89 L418.40,34.99 L418.49,34.16 L418.57,33.34 L418.66,32.48 L418.75,31.61 L418.84,30.72 L418.93,29.85 L419.02,28.99 L419.09,28.17 L419.16,27.39 L419.20,26.67 L419.22,26.03 L419.21,25.48 L419.07,25.01 L418.93,24.99 L418.65,25.38 L418.45,25.90 L418.26,26.51 L418.07,27.20 L417.87,27.96 L417.67,28.76 L417.47,29.60 L417.27,30.46 L417.07,31.33 L416.88,32.19 L416.69,33.04 L416.51,33.84 L416.34,34.67 L416.16,35.56 L415.97,36.49 L415.78,37.46 L415.60,38.42 L415.42,39.38 L415.24,40.30 L415.07,41.18 L414.92,41.98 L414.77,42.70 L414.65,43.30 L414.54,43.78Z" fill="#4fa12e" />
<path d="M416.27,44.08 L416.27,43.70 L416.27,43.22 L416.29,42.66 L416.31,42.02 L416.33,41.32 L416.35,40.58 L416.37,39.81 L416.39,39.03 L416.40,38.24 L416.40,37.47 L416.39,36.72 L416.37,36.01 L416.33,35.30 L416.28,34.56 L416.22,33.79 L416.14,33.01 L416.06,32.23 L415.98,31.47 L415.89,30.74 L415.79,30.05 L415.69,29.41 L415.59,28.85 L415.47,28.37 L415.27,28.00 L415.13,28.00 L414.96,28.40 L414.90,28.89 L414.85,29.46 L414.82,30.10 L414.80,30.79 L414.78,31.53 L414.77,32.29 L414.75,33.06 L414.73,33.83 L414.71,34.59 L414.68,35.31 L414.63,35.99 L414.58,36.66 L414.51,37.38 L414.44,38.13 L414.36,38.90 L414.27,39.67 L414.19,40.42 L414.10,41.15 L414.01,41.84 L413.93,42.47 L413.85,43.03 L413.79,43.52 L413.73,43.92Z" fill="#3b8f22" />
</g>
</svg>
</body></html>
